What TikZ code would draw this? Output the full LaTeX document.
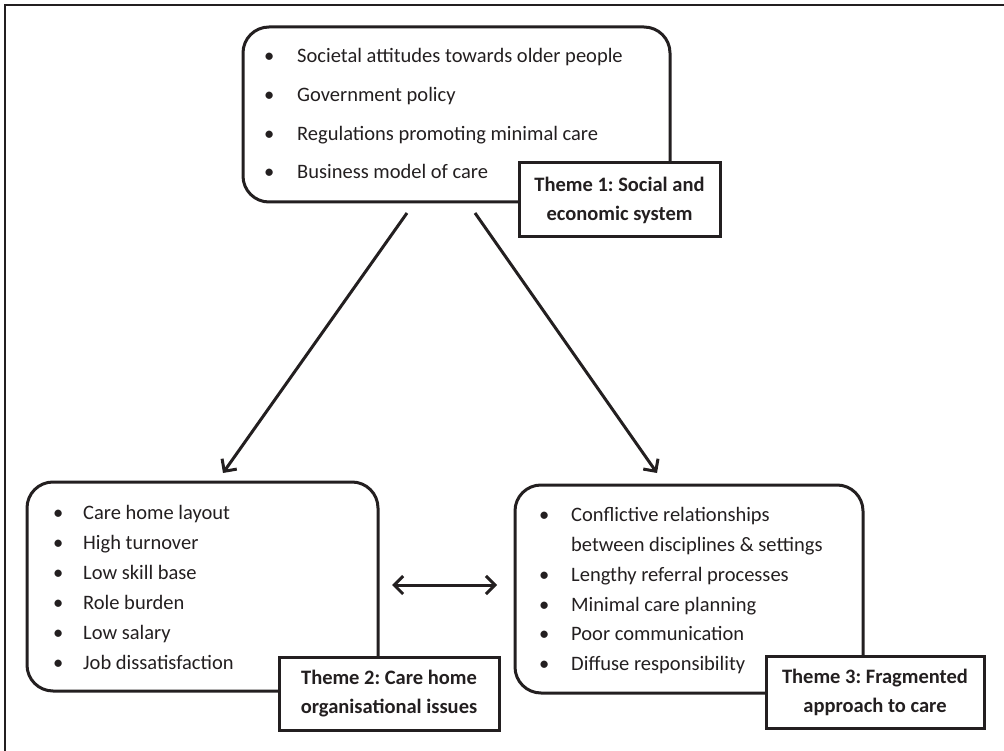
\documentclass[tikz,border=0pt]{standalone}
\usepackage{fontspec}
\setmainfont{Carlito}
\usetikzlibrary{arrows.meta}
\definecolor{ink}{HTML}{231F20}
\frenchspacing
\begin{document}
\begin{tikzpicture}[x=1pt,y=-1pt,
  every node/.style={font=\fontsize{20.5}{24}\selectfont, text=ink},
  bigbox/.style={draw=ink, line width=3pt, rounded corners=26pt, inner sep=0pt},
  themebox/.style={draw=ink, line width=3pt, fill=white, inner sep=0pt, align=center,
    font=\fontsize{20.5}{29}\selectfont\bfseries},
  bul/.style={anchor=west, inner sep=0pt, text height=13pt, text depth=4pt},
  conn/.style={draw=ink, line width=3pt, -{Straight Barb[length=9pt,width=18pt,line width=3pt]}},
  dconn/.style={draw=ink, line width=3pt, {Straight Barb[length=9pt,width=18pt,line width=3pt]}-{Straight Barb[length=9pt,width=18pt,line width=3pt]}}
]
\useasboundingbox (0,0) rectangle (1004,751);
% frame
\draw[ink, line width=2.2pt] (5,751) -- (5,5) -- (1004,5);

% big boxes
\node[bigbox, minimum width=427pt, minimum height=175pt] (top) at (456.5,114.5) {};
\node[bigbox, minimum width=351pt, minimum height=209pt] (bl) at (202.5,586.5) {};
\node[bigbox, minimum width=348pt, minimum height=208pt] (br) at (689,589) {};

% top list
\foreach \y/\t [count=\i] in {58/Societal attitudes towards older people, 97/Government policy, 136/Regulations promoting minimal care, 174/Business model of care}{
  \node[bul] (tb\i) at (264,\y) {\textbullet};
  \node[bul] (tt\i) at (297,\y) {\t};
}
% bottom-left list
\foreach \y/\t [count=\i] in {515/Care home layout, 545/High turnover, 575/Low skill base, 605/Role burden, 635/Low salary, 665/Job dissatisfaction}{
  \node[bul] (lb\i) at (53,\y) {\textbullet};
  \node[bul] (lt\i) at (83,\y) {\t};
}
% bottom-right list
\node[bul] (rb1) at (539,517) {\textbullet};
\node[bul] (rt1) at (571,517) {Conflictive relationships};
\node[bul] (rt1b) at (571,547) {between disciplines \& settings};
\foreach \y/\t [count=\i from 2] in {577/Lengthy referral processes, 607/Minimal care planning, 636/Poor communication, 666/Diffuse responsibility}{
  \node[bul] (rb\i) at (539,\y) {\textbullet};
  \node[bul] (rt\i) at (571,\y) {\t};
}

% theme boxes
\node[themebox, minimum width=201pt, minimum height=74pt] (t1) at (619.5,200) {Theme 1: Social and\\economic system};
\node[themebox, minimum width=220pt, minimum height=73pt] (t2) at (389,693.5) {Theme 2: Care home\\organisational issues};
\node[themebox, minimum width=218pt, minimum height=72pt] (t3) at (875,692) {Theme 3: Fragmented\\approach to care};

% connectors
\coordinate (a1s) at (407,213);
\coordinate (a1e) at (223,473);
\coordinate (a2s) at (475,213);
\coordinate (a2e) at (657,473);
\coordinate (a3s) at (392,585);
\coordinate (a3e) at (497,585);
\draw[conn] (a1s) -- (a1e);
\draw[conn] (a2s) -- (a2e);
\draw[dconn] (a3s) -- (a3e);
\end{tikzpicture}
\end{document}
